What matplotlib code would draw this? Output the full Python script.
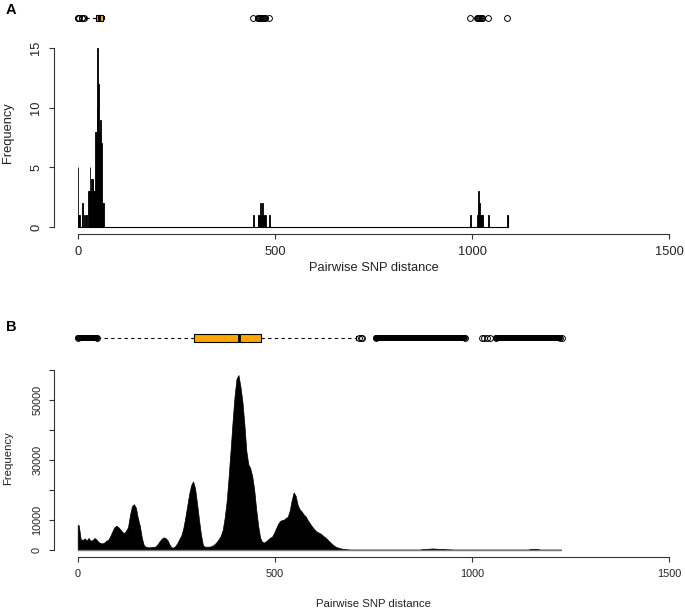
import numpy as np
import matplotlib
matplotlib.use("Agg")
import matplotlib.pyplot as plt

plt.rcParams['font.family'] = ['Liberation Sans', 'DejaVu Sans']

# ---------------- data ----------------
# Panel A: histogram of pairwise SNP distances (bin width 2)
a_bin_width = 2
a_bin_left = [0, 2, 4, 10, 12, 16, 20, 22, 26, 28, 30, 32, 34, 36, 38, 40, 42, 44, 46, 48,
              50, 52, 54, 56, 58, 60, 62, 64,
              444, 456, 458, 460, 462, 464, 466, 468, 470, 472, 474, 476, 486,
              994, 1012, 1014, 1016, 1018, 1020, 1022, 1024, 1026, 1040, 1088]
a_counts = [5, 1, 1, 1, 2, 1, 1, 1, 3, 3, 5, 3, 4, 4, 4, 3, 3, 8, 8, 10,
            15, 12, 8, 9, 7, 7, 2, 2,
            1, 1, 1, 1, 2, 1, 1, 2, 1, 1, 1, 1, 1,
            1, 1, 1, 3, 2, 1, 1, 1, 1, 1, 1]
a_hist_end = 1090
# Panel A boxplot
a_box = dict(q1=46, med=54, q3=64, whislo=20, whishi=66)
a_fliers = [0, 2, 4, 10, 12, 16,
            444, 456, 458, 460, 462, 464, 466, 468, 470, 472, 474, 476, 486,
            994, 1012, 1014, 1016, 1018, 1020, 1022, 1024, 1026, 1040, 1088]

# Panel B: histogram (bin width 5), counts
b_bin_width = 5
b_counts = ([8200, 3600, 3200, 3800, 3000, 3900, 3000, 3200, 3900, 3400,
             2600, 2200, 2100, 2400, 3000, 3300, 4500, 6000, 7400, 8000,
             7600, 6800, 6000, 5500, 6300, 7500, 11500, 14500, 15200, 14000,
             10500, 8000, 4000, 1500, 1000, 800, 800, 900, 900, 1100,
             1800, 2800, 3600, 4100, 3900, 3200, 1800, 800, 700, 1200,
             2200, 3500, 4700, 7000, 10500, 14500, 18500, 21500, 22800, 20500,
             15500, 10000, 5000, 1500, 1000, 1000, 1000, 1100, 1400, 1900,
             2600, 3500, 4600, 6500, 10500, 16000, 24000, 33000, 42500, 51000,
             57000, 58300, 54500, 49500, 42000, 33000, 28500, 27200, 24500, 20000,
             13500, 8000, 4000, 2600, 2400, 2800, 3400, 4000, 4300, 5500,
             7000, 8500, 9500, 9900, 10000, 10600, 11000, 13000, 16500, 19100,
             18000, 15000, 13500, 12800, 11800, 11200, 10000, 9000, 8000, 7200,
             6400, 5900, 5600, 5200, 4600, 4100, 3500, 2800, 2200, 1600,
             1100, 800, 600, 400, 300, 200, 100, 50, 0, 0]
            + [0] * 34
            + [150, 200, 250, 300, 350, 400, 400, 350, 300, 250, 200, 200, 150, 100, 100, 50]
            + [0] * 39
            + [200, 300, 300, 250, 150]
            + [0] * 11)
b_hist_end = 1225
# Panel B boxplot
b_box = dict(q1=296, med=409, q3=464, whislo=52, whishi=705)
b_fliers = [0, 50, 712, 717, 722, 757, 983, 1025, 1031, 1037, 1046, 1060, 1222, 1227]
b_flier_bands = [(0, 50), (757, 983), (1060, 1222)]

x_ticks = [0, 500, 1000, 1500]
a_yticks = [0, 5, 10, 15]
b_yticks = [0, 10000, 20000, 30000, 40000, 50000, 60000]
b_ylabels = ['0', '10000', '', '30000', '', '50000', '']

# ---------------- figure ----------------
W, H = 685, 610
fig = plt.figure(figsize=(W / 100, H / 100), dpi=100)


def rect(x0, y0, x1, y1):
    return [x0 / W, 1 - y1 / H, (x1 - x0) / W, (y1 - y0) / H]


axcol = '#333333'
txtcol = '#222222'
fsA = 9.3
fsB = 8.2
fsB_tick = 7.8


def style_axis(ax, yticks, ylabels, ylo, yhi, fs):
    for s in ['top', 'right']:
        ax.spines[s].set_visible(False)
    for s in ['left', 'bottom']:
        ax.spines[s].set_color(axcol)
        ax.spines[s].set_linewidth(0.8)
    ax.spines['bottom'].set_bounds(x_ticks[0], x_ticks[-1])
    ax.spines['left'].set_bounds(yticks[0], yticks[-1])
    ax.set_xticks(x_ticks)
    ax.set_xticklabels([str(t) for t in x_ticks])
    ax.set_yticks(yticks)
    ax.set_yticklabels(ylabels, rotation=90, va='center')
    ax.tick_params(axis='both', direction='out', length=3.6, width=0.8, color=axcol,
                   labelsize=fs, labelcolor=txtcol)
    ax.tick_params(axis='x', pad=5.0)
    ax.tick_params(axis='y', pad=5.0)
    ax.set_xlim(-60, 1560)
    ax.set_ylim(ylo, yhi)
    ax.patch.set_alpha(0)


def draw_box(ax, stats, fliers, widths):
    st = dict(stats)
    st['fliers'] = fliers
    kw = dict(positions=[0.5], widths=widths, patch_artist=True,
              boxprops=dict(facecolor='#FFA500', edgecolor='black', linewidth=0.8),
              medianprops=dict(color='black', linewidth=2.0),
              whiskerprops=dict(color='black', linewidth=0.8, linestyle=(0, (3, 3))),
              capprops=dict(color='black', linewidth=0.8),
              flierprops=dict(marker='o', markerfacecolor='none', markeredgecolor='black',
                              markersize=4.2, markeredgewidth=0.7))
    try:
        ax.bxp([st], orientation='horizontal', **kw)
    except TypeError:
        ax.bxp([st], vert=False, **kw)
    ax.set_xlim(-60, 1560)
    ax.set_ylim(0, 1)
    ax.axis('off')


# ----- Panel A -----
axA = fig.add_axes(rect(54.04, 40.8, 693.0, 234.2))
axA.bar(a_bin_left, a_counts, width=a_bin_width, align='edge', color='black',
        edgecolor='black', linewidth=0.6)
axA.hlines(0, 0, a_hist_end, color='black', linewidth=0.8)
axA.vlines(a_hist_end, 0, 1, color='black', linewidth=0.8)
style_axis(axA, a_yticks, [str(t) for t in a_yticks], -0.6, 15.6, fsA)

axAb = fig.add_axes(rect(54.04, 10, 693.0, 25))
draw_box(axAb, a_box, a_fliers, 0.4)

# ----- Panel B -----
axB = fig.add_axes(rect(54.04, 368.0, 693.0, 556.7))
b_centers = np.arange(len(b_counts)) * b_bin_width + b_bin_width / 2
b_x = np.concatenate([[0], b_centers, [b_hist_end]])
b_y = np.concatenate([[b_counts[0]], b_counts, [0]])
axB.fill_between(b_x, b_y, 0, facecolor='black', edgecolor='black', linewidth=0.5)
axB.hlines(0, 0, b_hist_end, color='#777777', linewidth=1.0)
style_axis(axB, b_yticks, b_ylabels, -2340, 60650, fsB_tick)

axBb = fig.add_axes(rect(54.04, 330, 693.0, 346))
draw_box(axBb, b_box, b_fliers, 0.44)
for lo, hi in b_flier_bands:
    axBb.hlines(0.5, lo, hi, color='black', linewidth=4.3, capstyle='round')

# ----- text -----
fig.text(11 / W, 1 - 10 / H, 'A', fontsize=10.5, fontweight='bold', color='black',
         ha='center', va='center')
fig.text(11 / W, 1 - 327 / H, 'B', fontsize=10.5, fontweight='bold', color='black',
         ha='center', va='center')
fig.text(8.5 / W, 1 - 133 / H, 'Frequency', rotation=90, fontsize=fsA,
         color=txtcol, ha='center', va='center')
fig.text(8.5 / W, 1 - 458 / H, 'Frequency', rotation=90, fontsize=fsB,
         color=txtcol, ha='center', va='center')
fig.text(373.5 / W, 1 - 268 / H, 'Pairwise SNP distance', fontsize=fsA,
         color=txtcol, ha='center', va='center')
fig.text(373.5 / W, 1 - 604 / H, 'Pairwise SNP distance', fontsize=fsB,
         color=txtcol, ha='center', va='center')

fig.savefig('out.png', dpi=100)
